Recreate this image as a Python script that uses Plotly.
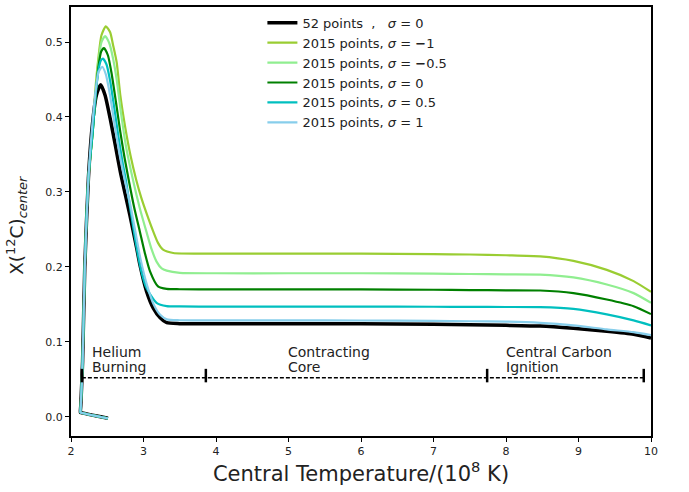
import plotly.graph_objects as go

# ---- data ----
t_black = [2.51, 2.14, 2.13, 2.135, 2.16, 2.19, 2.24, 2.29, 2.35, 2.41, 2.47, 2.54, 2.61, 2.68, 2.75, 2.81, 2.906, 2.95, 3.04, 3.135, 3.23, 3.32, 3.5, 4.0, 5.0, 6.0, 7.0, 7.5, 8.0, 8.47, 8.93, 9.39, 9.76, 10.0]
x_black = [-0.002, 0.0055, 0.006, 0.015, 0.074, 0.20, 0.318, 0.385, 0.429, 0.443, 0.429, 0.398, 0.363, 0.327, 0.296, 0.270, 0.225, 0.203, 0.168, 0.145, 0.132, 0.1255, 0.1243, 0.124, 0.124, 0.124, 0.1235, 0.1228, 0.122, 0.121, 0.118, 0.114, 0.110, 0.105]

t_m1 = [2.51, 2.14, 2.13, 2.135, 2.16, 2.19, 2.24, 2.30, 2.33, 2.377, 2.42, 2.48, 2.54, 2.58, 2.63, 2.68, 2.75, 2.82, 2.90, 2.97, 3.04, 3.135, 3.20, 3.27, 3.41, 4.0, 5.0, 6.0, 7.0, 7.5, 8.0, 8.47, 8.93, 9.39, 9.76, 10.0]
x_m1 = [-0.002, 0.0055, 0.006, 0.015, 0.074, 0.20, 0.318, 0.380, 0.429, 0.478, 0.509, 0.521, 0.513, 0.496, 0.473, 0.429, 0.385, 0.349, 0.316, 0.292, 0.272, 0.247, 0.232, 0.223, 0.2185, 0.2177, 0.2177, 0.2177, 0.217, 0.2165, 0.2155, 0.214, 0.208, 0.196, 0.181, 0.1666]

t_m05 = [2.51, 2.14, 2.13, 2.135, 2.16, 2.19, 2.24, 2.30, 2.34, 2.38, 2.42, 2.47, 2.53, 2.58, 2.63, 2.69, 2.76, 2.86, 2.95, 3.04, 3.11, 3.18, 3.25, 3.32, 3.5, 4.0, 5.0, 6.0, 7.0, 7.5, 8.0, 8.47, 8.93, 9.39, 9.76, 10.0]
x_m05 = [-0.002, 0.0055, 0.006, 0.015, 0.074, 0.20, 0.318, 0.381, 0.431, 0.474, 0.500, 0.508, 0.498, 0.478, 0.450, 0.405, 0.360, 0.314, 0.278, 0.247, 0.224, 0.207, 0.198, 0.195, 0.192, 0.1915, 0.1915, 0.1915, 0.191, 0.1905, 0.1900, 0.1897, 0.186, 0.1765, 0.165, 0.152]

t_0 = [2.51, 2.14, 2.13, 2.135, 2.16, 2.19, 2.24, 2.30, 2.34, 2.38, 2.415, 2.455, 2.51, 2.56, 2.62, 2.68, 2.74, 2.80, 2.87, 2.95, 3.02, 3.09, 3.20, 3.32, 3.5, 4.0, 5.0, 6.0, 7.0, 7.5, 8.0, 8.47, 8.93, 9.39, 9.76, 10.0]
x_0 = [-0.002, 0.0055, 0.006, 0.015, 0.074, 0.20, 0.318, 0.381, 0.430, 0.468, 0.487, 0.492, 0.482, 0.458, 0.420, 0.380, 0.345, 0.314, 0.280, 0.247, 0.218, 0.194, 0.174, 0.1706, 0.1702, 0.170, 0.170, 0.170, 0.1695, 0.169, 0.1688, 0.1685, 0.165, 0.1565, 0.1476, 0.137]

t_05 = [2.51, 2.14, 2.13, 2.135, 2.16, 2.19, 2.24, 2.30, 2.34, 2.38, 2.41, 2.44, 2.49, 2.54, 2.60, 2.66, 2.71, 2.76, 2.83, 2.906, 2.97, 3.04, 3.18, 3.32, 3.5, 4.0, 5.0, 6.0, 7.0, 7.5, 8.0, 8.47, 8.93, 9.39, 9.76, 10.0]
x_05 = [-0.002, 0.0055, 0.006, 0.015, 0.074, 0.20, 0.318, 0.381, 0.430, 0.463, 0.475, 0.478, 0.470, 0.448, 0.410, 0.370, 0.340, 0.314, 0.270, 0.225, 0.194, 0.172, 0.152, 0.1476, 0.1472, 0.147, 0.147, 0.147, 0.1468, 0.1466, 0.1465, 0.1463, 0.144, 0.1366, 0.1286, 0.122]

t_1 = [2.51, 2.14, 2.13, 2.135, 2.16, 2.19, 2.24, 2.29, 2.34, 2.38, 2.43, 2.48, 2.54, 2.61, 2.68, 2.75, 2.82, 2.91, 2.96, 3.05, 3.14, 3.23, 3.32, 3.5, 4.0, 5.0, 6.0, 7.0, 7.5, 8.0, 8.47, 8.93, 9.39, 9.76, 10.0]
x_1 = [-0.002, 0.0055, 0.006, 0.015, 0.074, 0.20, 0.318, 0.385, 0.435, 0.460, 0.467, 0.457, 0.428, 0.385, 0.345, 0.312, 0.282, 0.235, 0.210, 0.175, 0.150, 0.136, 0.1300, 0.1288, 0.1286, 0.1286, 0.1285, 0.128, 0.1275, 0.127, 0.1254, 0.122, 0.1166, 0.113, 0.109]

series_names = [
    "52 points  ,   <i>σ</i> = 0",
    "2015 points, <i>σ</i> = <b>−</b>1",
    "2015 points, <i>σ</i> = <b>−</b>0.5",
    "2015 points, <i>σ</i> = 0",
    "2015 points, <i>σ</i> = 0.5",
    "2015 points, <i>σ</i> = 1",
]
series_t = [t_black, t_m1, t_m05, t_0, t_05, t_1]
series_x = [x_black, x_m1, x_m05, x_0, x_05, x_1]
series_colors = ["#000000", "#9ACD32", "#90EE90", "#008000", "#00BFBF", "#87CEEB"]
series_widths = [3.5, 2.2, 2.2, 2.2, 2.2, 2.2]

phase_labels = [("Helium", "Burning"), ("Contracting", "Core"), ("Central Carbon", "Ignition")]
phase_label_t = [2.26, 4.97, 7.97]
phase_bar_t = [2.15, 3.86, 7.74, 9.90]
phase_line_x = 0.052

fig = go.Figure()
for name, t, x, c, w in zip(series_names, series_t, series_x, series_colors, series_widths):
    fig.add_trace(go.Scatter(x=t, y=x, mode="lines", name=name,
                             line=dict(color=c, width=w, shape="spline", smoothing=0.6)))

# dashed phase line and bars
fig.add_shape(type="line", x0=phase_bar_t[0], x1=phase_bar_t[-1], y0=phase_line_x, y1=phase_line_x,
              line=dict(color="black", width=1.5, dash="4px,2px"), layer="above")
for bt in phase_bar_t:
    fig.add_shape(type="line", x0=bt, x1=bt, y0=phase_line_x - 0.006, y1=phase_line_x + 0.012,
                  line=dict(color="black", width=2.5), layer="above")
for (l1, l2), lt in zip(phase_labels, phase_label_t):
    fig.add_annotation(x=lt, y=0.0865, text=l1, showarrow=False, xanchor="left", yanchor="middle",
                       font=dict(size=14, color="#222"))
    fig.add_annotation(x=lt, y=0.0665, text=l2, showarrow=False, xanchor="left", yanchor="middle",
                       font=dict(size=14, color="#222"))

# y-axis title as a rotated annotation (for precise centring)
fig.add_annotation(xref="paper", yref="paper", x=-0.093, y=0.49, text="X(<sup>12</sup>C)<sub><i>center</i></sub>",
                   textangle=-90, showarrow=False, xanchor="center", yanchor="middle",
                   font=dict(size=18.5, color="#222"))

fig.update_layout(
    width=689, height=492,
    margin=dict(l=71, r=38, t=5, b=56),
    paper_bgcolor="white", plot_bgcolor="white",
    font=dict(family="DejaVu Sans", color="#222"),
    showlegend=True,
    legend=dict(x=0.33, y=0.998, xanchor="left", yanchor="top", bgcolor="rgba(0,0,0,0)",
                font=dict(size=13, color="#222")),
    xaxis=dict(range=[2, 10], tickvals=[2, 3, 4, 5, 6, 7, 8, 9, 10], showgrid=False, zeroline=False,
               showline=True, linecolor="black", linewidth=2, mirror=True,
               ticks="outside", ticklen=4, tickwidth=1.2, tickcolor="black",
               tickfont=dict(size=11),
               title=dict(text="Central Temperature/(10<sup>8</sup> K)", font=dict(size=21), standoff=6)),
    yaxis=dict(range=[-0.0256, 0.5467], tickvals=[0, 0.1, 0.2, 0.3, 0.4, 0.5], tickformat=".1f",
               showgrid=False, zeroline=False,
               showline=True, linecolor="black", linewidth=2, mirror=True,
               ticks="outside", ticklen=4, tickwidth=1.2, tickcolor="black",
               tickfont=dict(size=11)),
)

fig.write_html("out.html")
